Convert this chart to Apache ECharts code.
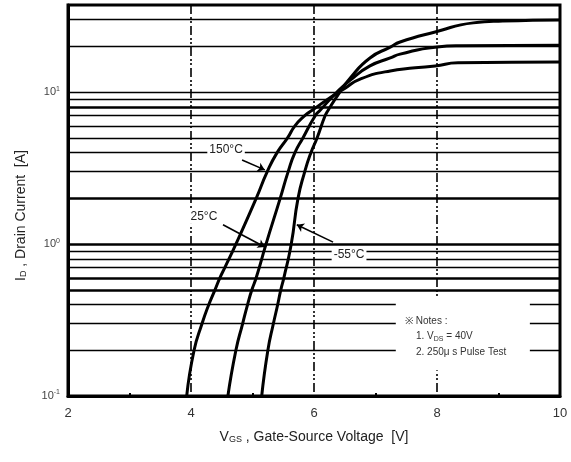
<!DOCTYPE html>
<html>
<head>
<meta charset="utf-8">
<script src="https://cdn.jsdelivr.net/npm/echarts@6/dist/echarts.min.js"></script>
<style>
  html, body { margin: 0; padding: 0; background: #fff; }
  #chart { width: 571px; height: 462px; }
</style>
</head>
<body>
<div id="chart"></div>
<script>
// transfer characteristics
const curveNames = ['150°C', '25°C', '-55°C']

const vgs150 = [3.93, 4.05, 4.18, 4.29, 4.39, 4.47, 4.55, 4.73, 5.06, 5.24, 5.40, 5.57, 5.69, 5.85, 5.97, 6.26, 6.50, 6.75, 7.24, 7.97, 8.34, 10.0]
const id150 = [0.1, 0.2, 0.3, 0.4, 0.5, 0.6, 0.7, 1.0, 2, 3, 4, 5, 6, 7, 7.6, 9.2, 10.6, 12.2, 13.8, 14.9, 15.6, 15.8]

const vgs25 = [4.60, 4.73, 4.84, 4.92, 4.99, 5.06, 5.22, 5.45, 5.58, 5.69, 5.82, 6.02, 6.10, 6.34, 6.59, 6.91, 7.24, 7.40, 7.97, 8.37, 10.0]
const id25 = [0.1, 0.2, 0.3, 0.4, 0.5, 0.6, 1.0, 2, 3, 4, 5, 7, 7.6, 9.7, 12.0, 14.9, 16.8, 17.8, 19.8, 20.2, 20.4]

const vgsM55 = [5.15, 5.25, 5.34, 5.41, 5.46, 5.51, 5.63, 5.74, 5.85, 5.95, 6.05, 6.18, 6.23, 6.39, 6.59, 6.91, 7.24, 7.40, 7.97, 8.59, 9.07, 10.0]
const idM55 = [0.1, 0.2, 0.3, 0.4, 0.5, 0.6, 1.0, 2, 3, 4, 5, 7, 7.6, 9.6, 12.4, 16.8, 19.8, 21.4, 24.9, 28.6, 29.4, 29.9]

// horizontal rules of the log grid (the heavier ones came out thicker in the scan)
const gridValues = [0.2, 0.3, 0.4, 0.5, 0.6, 0.7, 0.8, 0.9, 1, 2, 3, 4, 5, 6, 7, 8, 9, 10, 20, 30]
const thickGrid = [0.5, 0.6, 1, 2, 8]

const xTicks = [2, 4, 6, 8, 10]

const FONT = 'Liberation Sans, Arial, sans-serif'
const chart = echarts.init(document.getElementById('chart'))

function pairs(xs, ys) {
  return xs.map((x, i) => [x, ys[i]])
}

function curve(name, xs, ys, extra) {
  return Object.assign({
    name: name,
    type: 'line',
    data: pairs(xs, ys),
    smooth: 0.55,
    showSymbol: false,
    lineStyle: { color: '#000', width: 3 },
    z: 3
  }, extra)
}

function tag(text, coord) {
  return {
    symbol: 'rect',
    symbolSize: 1,
    itemStyle: { color: 'transparent' },
    label: {
      show: true,
      position: 'inside',
      formatter: text,
      color: '#222',
      fontFamily: FONT,
      fontSize: 12,
      backgroundColor: '#fff',
      padding: [1, 2]
    },
    data: [{ coord: coord }]
  }
}

function arrow(from, to) {
  return {
    silent: true,
    symbol: ['none', 'arrow'],
    symbolSize: 7,
    label: { show: false },
    lineStyle: { color: '#000', width: 1.6, type: 'solid' },
    data: [[{ coord: from }, { coord: to }]]
  }
}

chart.setOption({
  animation: false,
  backgroundColor: '#fff',
  grid: {
    left: 68, right: 11, top: 5, bottom: 66,
    show: true, borderColor: '#000', borderWidth: 3, backgroundColor: '#fff'
  },
  xAxis: {
    type: 'value',
    min: xTicks[0],
    max: xTicks[xTicks.length - 1],
    interval: 2,
    name: 'V{sub|GS} , Gate-Source Voltage  [V]',
    nameLocation: 'middle',
    nameGap: 34,
    nameTextStyle: {
      color: '#222', fontFamily: FONT, fontSize: 14,
      rich: {
        sub: { fontSize: 9, lineHeight: 9, verticalAlign: 'bottom', fontFamily: FONT, color: '#222' }
      }
    },
    axisLine: { lineStyle: { color: '#000', width: 3 } },
    axisTick: { show: false },
    minorTick: { show: true, splitNumber: 2, length: -3, lineStyle: { color: '#000', width: 2 } },
    axisLabel: { color: '#333', fontFamily: FONT, fontSize: 13, margin: 11 },
    splitLine: { show: true, lineStyle: { color: '#000', width: 1.6, type: [9, 3, 2, 2, 2, 3] } }
  },
  yAxis: {
    type: 'log',
    logBase: 10,
    min: 0.1,
    max: 37.5,
    name: 'I{sub|D} , Drain Current  [A]',
    nameLocation: 'middle',
    nameGap: 40,
    nameTextStyle: {
      color: '#222', fontFamily: FONT, fontSize: 14,
      padding: [0, 30, 0, 0],
      rich: {
        sub: { fontSize: 9, lineHeight: 9, verticalAlign: 'bottom', fontFamily: FONT, color: '#222' }
      }
    },
    axisLine: { lineStyle: { color: '#000', width: 3 } },
    axisTick: { show: false },
    splitLine: { show: false },
    axisLabel: {
      margin: 8,
      color: '#444',
      fontFamily: FONT,
      formatter: function (v) {
        const e = Math.round(Math.log10(v))
        if (Math.abs(v - Math.pow(10, e)) > v * 1e-6) return ''
        return '{b|10}{s|' + e + '}'
      },
      rich: {
        b: { fontSize: 11, lineHeight: 14, fontFamily: FONT, color: '#444' },
        s: { fontSize: 7, lineHeight: 8, verticalAlign: 'top', fontFamily: FONT, color: '#444' }
      }
    }
  },
  graphic: [
    { type: 'text', left: 405, top: 316, z: 10, style: { text: '※ Notes :', font: '10px ' + FONT, fill: '#333' } },
    {
      type: 'text', left: 416, top: 331, z: 10,
      style: {
        text: '{a|1. V}{s|DS}{a| = 40V}',
        rich: {
          a: { font: '10px ' + FONT, fill: '#333', lineHeight: 13 },
          s: { font: '7px ' + FONT, fill: '#333', lineHeight: 8, verticalAlign: 'bottom' }
        }
      }
    },
    { type: 'text', left: 416, top: 347, z: 10, style: { text: '2. 250μ s Pulse Test', font: '10px ' + FONT, fill: '#333' } }
  ],
  series: [
    {
      type: 'line',
      data: [],
      z: 1,
      silent: true,
      markLine: {
        z: 1,
        silent: true,
        symbol: 'none',
        label: { show: false },
        lineStyle: { color: '#000', type: 'solid' },
        data: gridValues.map((v) => ({
          yAxis: v,
          lineStyle: { width: thickGrid.includes(v) ? 2.6 : 1.4 }
        }))
      },
      markArea: {
        z: 2,
        silent: true,
        itemStyle: { color: '#fff' },
        data: [[{ coord: [7.33, 0.148] }, { coord: [9.51, 0.44] }]]
      }
    },
    curve(curveNames[0], vgs150, id150, {
      markPoint: tag(curveNames[0], [4.57, 4.17]),
      markLine: arrow([4.83, 3.58], [5.20, 3.08])
    }),
    curve(curveNames[1], vgs25, id25, {
      markPoint: tag(curveNames[1], [4.21, 1.51]),
      markLine: arrow([4.52, 1.34], [5.20, 0.957])
    }),
    curve(curveNames[2], vgsM55, idM55, {
      markPoint: tag(curveNames[2], [6.57, 0.85]),
      markLine: arrow([6.31, 1.03], [5.72, 1.34])
    })
  ]
})
</script>
</body>
</html>
